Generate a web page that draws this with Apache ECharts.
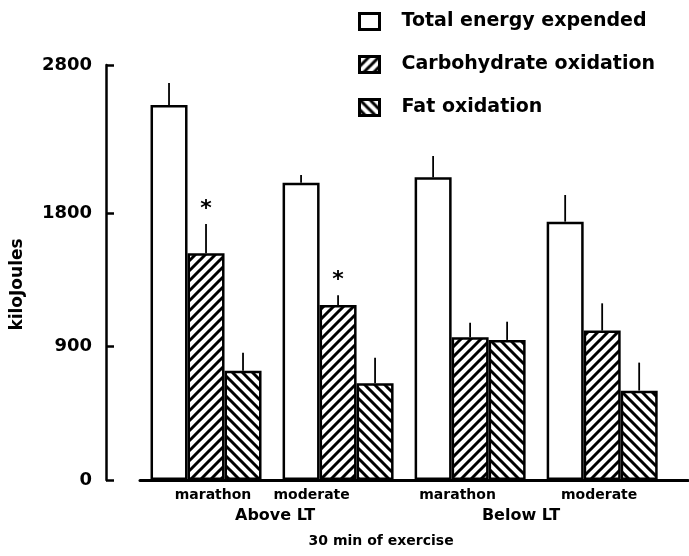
<!DOCTYPE html>
<html>
<head>
<meta charset="utf-8">
<script src="https://cdn.jsdelivr.net/npm/echarts@6/dist/echarts.min.js"></script>
<style>
  html, body { margin: 0; padding: 0; background: #fff; }
  #chart { width: 689px; height: 556px; }
</style>
</head>
<body>
<div id="chart"></div>
<script>
// Energy expenditure over 30 min of exercise, by group and intensity
const groups = ['marathon', 'moderate', 'marathon', 'moderate'];
const thresholds = ['Above LT', 'Below LT'];
const xTitle = '30 min of exercise';
const seriesNames = ['Total energy expended', 'Carbohydrate oxidation', 'Fat oxidation'];

const totalEnergy = [2530, 2006, 2042, 1743];
const totalSD     = [149, 52, 144, 180];
const carbOx      = [1530, 1181, 963, 1008];
const carbSD      = [197, 65, 98, 184];
const fatOx       = [737, 652, 945, 603];
const fatSD       = [122, 173, 123, 189];
const carbMarks   = ['*', '*', '', ''];

const yTicks = [0, 900, 1800, 2800];

// ---- drawing helpers ----
const FONT = 'DejaVu Sans';
const BAR_W = 37;

function hatch(dir) {
  const s = 10;
  const c = document.createElement('canvas');
  c.width = s; c.height = s;
  const g = c.getContext('2d');
  g.fillStyle = '#fff';
  g.fillRect(0, 0, s, s);
  g.strokeStyle = '#000';
  g.lineWidth = 3;
  g.beginPath();
  if (dir === '/') {
    [[0, s, s, 0], [-s / 2, s / 2, s / 2, -s / 2], [s / 2, s * 1.5, s * 1.5, s / 2]].forEach(l => {
      g.moveTo(l[0], l[1]); g.lineTo(l[2], l[3]);
    });
  } else {
    [[0, 0, s, s], [-s / 2, s / 2, s / 2, s * 1.5], [s / 2, -s / 2, s * 1.5, s / 2]].forEach(l => {
      g.moveTo(l[0], l[1]); g.lineTo(l[2], l[3]);
    });
  }
  g.stroke();
  return { image: c, repeat: 'repeat' };
}

const fills = ['#fff', hatch('/'), hatch('\\')];
const values = [totalEnergy, carbOx, fatOx];
const sds = [totalSD, carbSD, fatSD];

// one entry per error whisker: [group, slot, mean, sd]
const errData = [];
const errMarks = [];
values.forEach((arr, slot) => {
  arr.forEach((v, i) => {
    errData.push([i, slot, v, sds[slot][i]]);
    errMarks.push(slot === 1 ? carbMarks[i] : '');
  });
});

const barSeries = values.map((arr, slot) => ({
  name: seriesNames[slot],
  type: 'bar',
  xAxisIndex: 0,
  barWidth: BAR_W,
  barGap: '0%',
  data: arr.map((v, i) => [i, v]),
  itemStyle: { color: fills[slot], borderColor: '#000', borderWidth: 2.5 },
  emphasis: { disabled: true },
  z: 3
}));

const errorSeries = {
  type: 'custom',
  xAxisIndex: 0,
  data: errData,
  encode: { x: 0, y: 2 },
  z: 2,
  renderItem: function (params, api) {
    const i = api.value(0), slot = api.value(1), v = api.value(2), e = api.value(3);
    const base = api.coord([i, v]);
    const tip = api.coord([i, v + e]);
    const x = base[0] + (slot - 1) * BAR_W;
    const children = [{
      type: 'line',
      shape: { x1: x, y1: base[1], x2: x, y2: tip[1] },
      style: { stroke: '#000', lineWidth: 1.8 }
    }];
    const mark = errMarks[params.dataIndex];
    if (mark) {
      children.push({
        type: 'text',
        style: {
          text: mark, x: x, y: tip[1] - 4,
          align: 'center', verticalAlign: 'bottom',
          font: 'bold 22px "' + FONT + '"', fill: '#000'
        }
      });
    }
    return { type: 'group', children: children };
  }
};

const xMin = -0.5, xMax = 3.65;
const labelText = { color: '#000', fontFamily: FONT, fontWeight: 'bold' };

// label anchor positions along the x axis (in group units)
const groupLabelAt = [0.053, 0.8, 1.905, 2.977];
const thresholdLabelAt = [0.523, 2.386];
const titleAt = [1.326];

function labelFor(positions, texts) {
  return function (v) {
    let best = 0;
    positions.forEach((p, k) => { if (Math.abs(p - v) < Math.abs(positions[best] - v)) best = k; });
    return texts[best];
  };
}

const option = {
  animation: false,
  backgroundColor: '#fff',
  grid: { left: 140, right: 1, top: 65, bottom: 76, outerBoundsMode: 'none' },
  legend: {
    data: seriesNames,
    orient: 'vertical',
    left: 353,
    top: 7,
    icon: 'rect',
    itemWidth: 20,
    itemHeight: 16,
    itemGap: 24,
    selectedMode: false,
    itemStyle: { borderWidth: 3, borderColor: '#000' },
    textStyle: Object.assign({ fontSize: 19, padding: [0, 0, 0, 17] }, labelText)
  },
  xAxis: [
    {
      type: 'value', min: xMin, max: xMax, position: 'bottom',
      axisLine: { show: true, onZero: false, lineStyle: { color: '#000', width: 3 } },
      axisTick: { show: false },
      splitLine: { show: false },
      axisLabel: Object.assign({
        fontSize: 14, margin: 8,
        customValues: groupLabelAt,
        formatter: labelFor(groupLabelAt, groups)
      }, labelText)
    },
    {
      type: 'value', min: xMin, max: xMax, position: 'bottom', offset: 22,
      axisLine: { show: false, onZero: false }, axisTick: { show: false }, splitLine: { show: false },
      axisLabel: Object.assign({
        fontSize: 16, margin: 6,
        customValues: thresholdLabelAt,
        formatter: labelFor(thresholdLabelAt, thresholds)
      }, labelText)
    },
    {
      type: 'value', min: xMin, max: xMax, position: 'bottom', offset: 47,
      axisLine: { show: false, onZero: false }, axisTick: { show: false }, splitLine: { show: false },
      axisLabel: Object.assign({
        fontSize: 14, margin: 7,
        customValues: titleAt,
        formatter: () => xTitle
      }, labelText)
    }
  ],
  yAxis: {
    type: 'value', min: 0, max: 2800, offset: 34,
    name: 'kiloJoules', nameLocation: 'middle', nameRotate: 90, nameGap: 80,
    nameTextStyle: Object.assign({ fontSize: 17, padding: [0, 24, 0, 0] }, labelText),
    axisLine: { show: true, onZero: false, lineStyle: { color: '#000', width: 2.5 } },
    axisTick: { show: true, inside: true, length: 8, customValues: yTicks, lineStyle: { color: '#000', width: 2.5 } },
    splitLine: { show: false },
    axisLabel: Object.assign({
      fontSize: 18, margin: 14, customValues: yTicks,
      formatter: v => String(v)
    }, labelText)
  },
  series: barSeries.concat([errorSeries])
};

const chart = echarts.init(document.getElementById('chart'), null, { renderer: 'canvas' });
chart.setOption(option);
</script>
</body>
</html>
